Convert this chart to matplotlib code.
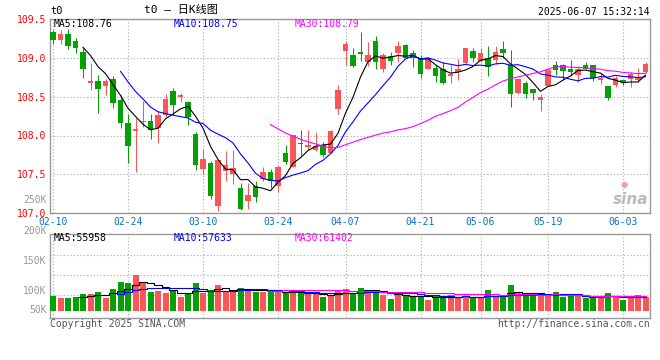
import numpy as np
import pandas as pd
import matplotlib
matplotlib.use('Agg')
import matplotlib.pyplot as plt

plt.rcParams['font.family'] = ['DejaVu Sans Mono', 'Noto Sans CJK SC']

## daily bars of t0, 2025-02-10 .. 2025-06-06 (80 trading days)
opens = [109.33, 109.23, 109.31, 109.21, 109.07, 108.67, 108.70, 108.63, 108.73, 108.46,
         108.16, 108.06, 108.17, 108.19, 108.09, 108.26, 108.57, 108.49, 108.43, 108.02,
         107.57, 107.65, 107.09, 107.55, 107.51, 107.33, 107.16, 107.35, 107.44, 107.53,
         107.35, 107.78, 107.60, 107.91, 107.85, 107.81, 107.88, 107.78, 108.34, 109.08,
         109.04, 109.07, 108.95, 109.21, 108.86, 109.02, 109.06, 109.16, 109.06, 109.00,
         108.86, 108.87, 108.86, 108.76, 108.82, 108.93, 109.09, 108.96, 109.00, 108.97,
         109.11, 108.91, 108.55, 108.68, 108.60, 108.45, 108.64, 108.90, 108.91, 108.86,
         108.78, 108.91, 108.90, 108.71, 108.63, 108.65, 108.71, 108.73, 108.71, 108.82]
highs = [109.36, 109.36, 109.37, 109.25, 109.12, 108.93, 108.78, 108.73, 108.77, 108.52,
         108.28, 108.22, 108.44, 108.28, 108.31, 108.53, 108.61, 108.54, 108.44, 108.05,
         107.83, 107.67, 107.68, 107.80, 107.81, 107.39, 107.39, 107.41, 107.59, 107.57,
         107.62, 107.88, 108.01, 108.07, 108.07, 108.05, 107.92, 108.07, 108.65, 109.21,
         109.13, 109.33, 109.20, 109.28, 109.06, 109.07, 109.21, 109.18, 109.10, 109.03,
         109.01, 108.90, 108.95, 108.91, 108.98, 109.13, 109.13, 109.13, 109.15, 109.15,
         109.21, 109.10, 108.74, 108.70, 108.60, 108.53, 108.85, 108.96, 108.92, 108.97,
         108.88, 108.95, 108.91, 108.80, 108.64, 108.76, 108.71, 108.81, 108.87, 108.95]
lows = [109.18, 109.18, 109.11, 109.06, 108.74, 108.59, 108.29, 108.52, 108.35, 108.09,
        107.65, 107.53, 108.11, 107.96, 107.90, 108.24, 108.26, 108.43, 108.13, 107.56,
        107.50, 107.19, 107.03, 107.41, 107.38, 107.04, 107.06, 107.14, 107.41, 107.33,
        107.28, 107.64, 107.59, 107.75, 107.83, 107.80, 107.73, 107.77, 108.27, 108.91,
        108.88, 108.96, 108.89, 108.86, 108.81, 108.91, 108.95, 108.99, 108.88, 108.74,
        108.85, 108.69, 108.66, 108.67, 108.71, 108.92, 108.95, 108.95, 108.76, 108.92,
        109.00, 108.36, 108.53, 108.48, 108.46, 108.31, 108.63, 108.78, 108.71, 108.77,
        108.69, 108.85, 108.70, 108.66, 108.46, 108.62, 108.65, 108.62, 108.69, 108.80]
closes = [109.23, 109.31, 109.15, 109.12, 108.86, 108.70, 108.60, 108.70, 108.42, 108.16,
          107.87, 108.08, 108.19, 108.07, 108.26, 108.47, 108.39, 108.52, 108.24, 107.62,
          107.70, 107.22, 107.68, 107.62, 107.58, 107.06, 107.23, 107.21, 107.53, 107.42,
          107.60, 107.66, 108.00, 107.89, 107.88, 107.87, 107.75, 108.06, 108.58, 109.18,
          108.89, 109.05, 109.04, 108.95, 109.04, 108.96, 109.15, 109.00, 109.00, 108.79,
          108.99, 108.77, 108.67, 108.79, 108.85, 109.13, 109.00, 109.06, 108.88, 109.07,
          109.06, 108.53, 108.73, 108.53, 108.55, 108.50, 108.84, 108.84, 108.83, 108.82,
          108.85, 108.86, 108.74, 108.74, 108.48, 108.74, 108.69, 108.79, 108.74, 108.92]
## volume, thousand lots
volume = [60.9, 52.6, 52.6, 56.8, 69.3, 69.3, 77.6, 52.6, 90.0, 119.1,
          116.3, 148.2, 115.0, 77.6, 81.7, 73.4, 81.7, 56.8, 73.4, 115.0,
          73.4, 85.9, 106.6, 81.7, 85.9, 94.2, 90.0, 77.6, 77.6, 85.9,
          77.6, 73.4, 73.4, 73.4, 69.3, 73.4, 56.8, 60.9, 81.7, 90.0,
          73.4, 94.2, 85.9, 81.7, 65.1, 48.5, 65.1, 65.1, 60.9, 60.9,
          44.3, 60.9, 60.9, 65.1, 52.6, 56.8, 56.8, 52.6, 85.9, 60.9,
          56.8, 106.6, 73.4, 60.9, 60.9, 60.9, 60.9, 77.6, 56.8, 60.9,
          60.9, 52.6, 56.8, 56.8, 73.4, 60.9, 44.3, 52.6, 65.1, 56.8]

date_ticks = [0, 10, 20, 30, 39, 49, 57, 66, 76]
date_labels = ['02-10', '02-24', '03-10', '03-24', '04-07', '04-21', '05-06', '05-19', '06-03']
price_ticks = [107.0, 107.5, 108.0, 108.5, 109.0, 109.5]
vol_labels = ['250K', '200K', '150K', '100K', '50K']

RED = '#fa5656'
GREEN = '#05a005'
GRID = '#aaaaaa'
FRAME = '#999999'
W, H = 660.0, 360.0

def box(x0, y0, x1, y1):
    return [x0 / W, 1 - y1 / H, (x1 - x0) / W, (y1 - y0) / H]

def ftext(x, y, s, **kw):
    fig.text(x / W, 1 - y / H, s, **kw)

o = np.array(opens); c = np.array(closes)
hi = np.array(highs); lo = np.array(lows)
vol = np.array(volume)
idx = np.arange(len(o))
up = c >= o
cols = np.where(up, RED, GREEN)

fig = plt.figure(figsize=(6.6, 3.6), dpi=100)
ax = fig.add_axes(box(50, 18.8, 650, 213.3))
axv = fig.add_axes(box(50, 234.3, 650, 318.3))

## candles
ax.vlines(idx, lo, hi, colors=cols, lw=0.75, zorder=3)
body = np.maximum(np.abs(c - o), 0.006)
ax.bar(idx, body, bottom=np.minimum(o, c), width=0.76, color=cols, lw=0, zorder=4)

cs = pd.Series(closes)
ax.plot(idx, cs.rolling(5).mean(), color='black', lw=0.8, zorder=5)
ax.plot(idx, cs.rolling(10).mean(), color='#0000ff', lw=0.8, zorder=5)
ax.plot(idx, cs.rolling(30).mean(), color='#ff00ff', lw=0.8, zorder=5)

ax.set_xlim(-0.4, 79.6)
ax.set_ylim(107.0, 109.5)
ax.set_yticks(price_ticks)
ax.set_yticklabels(['%.1f' % p for p in price_ticks], color='#ff0000', fontsize=7)
ax.set_xticks(date_ticks)
ax.set_xticklabels(date_labels, color='#0a70c4', fontsize=7)
ax.tick_params(length=0, pad=3)
ax.grid(True, color=GRID, ls=(0, (1, 2)), lw=0.8, zorder=0)

## volume
axv.bar(idx, vol, width=0.8, color=cols, lw=0, zorder=3)
vs = pd.Series(volume)
axv.plot(idx, vs.rolling(5).mean(), color='black', lw=0.8, drawstyle='steps-mid', zorder=5)
axv.plot(idx, vs.rolling(10).mean(), color='#0000ff', lw=0.8, drawstyle='steps-mid', zorder=5)
axv.plot(idx, vs.rolling(30).mean(), color='#ff00ff', lw=0.8, drawstyle='steps-mid', zorder=5)
axv.set_xlim(-0.4, 79.6)
axv.set_ylim(-31.6, 317.4)
axv.set_xticks(date_ticks)
axv.set_yticks([65.1, 148.1, 231.5])
axv.tick_params(length=0, labelbottom=False, labelleft=False)
axv.grid(True, color=GRID, ls=(0, (1, 2)), lw=0.8, zorder=0)

for a in (ax, axv):
    for s in a.spines.values():
        s.set_color(FRAME)
        s.set_linewidth(1.0)

## texts
ftext(50, 11, 't0', fontsize=7.5, va='center')
ftext(181, 10, 't0 \u2013 日K线图', fontsize=8, va='center', ha='center')
ftext(650, 12, '2025-06-07 15:32:14', fontsize=7, va='center', ha='right')
ftext(54, 24, 'MA5:108.76', fontsize=7, va='center', color='black')
ftext(174, 24, 'MA10:108.75', fontsize=7, va='center', color='#0000ff')
ftext(295, 24, 'MA30:108.79', fontsize=7, va='center', color='#ff00ff')
ftext(54, 238, 'MA5:55958', fontsize=7, va='center', color='black')
ftext(174, 238, 'MA10:57633', fontsize=7, va='center', color='#0000ff')
ftext(295, 238, 'MA30:61402', fontsize=7, va='center', color='#ff00ff')
for lab, y in zip(vol_labels, [200, 231, 261, 291, 310]):
    ftext(46.5, y, lab, fontsize=7, va='center', ha='right', color='#999999')
ftext(50, 324, 'Copyright 2025 SINA.COM', fontsize=7, va='center', color='#555555')
ftext(650, 324, 'http://finance.sina.com.cn', fontsize=7, va='center', ha='right', color='#555555')

## sina watermark
ftext(648, 199, 'sina', fontsize=11, va='center', ha='right', color='#bbbbbb',
      style='italic', weight='bold', family='DejaVu Sans')
ftext(624, 184, '\u25cf', fontsize=6, va='center', ha='center', color='#f4a0a0', family='DejaVu Sans')

fig.savefig('out.png', dpi=100)
